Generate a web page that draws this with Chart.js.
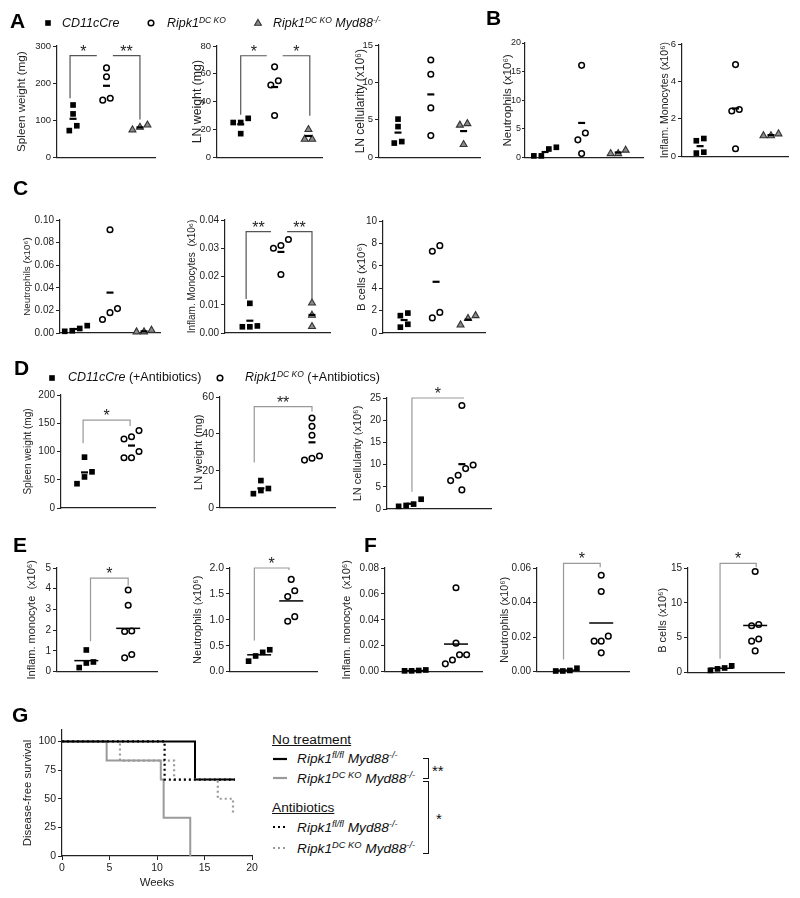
<!DOCTYPE html>
<html>
<head>
<meta charset="utf-8">
<script src="https://cdn.jsdelivr.net/npm/chart.js@4.4.1/dist/chart.umd.min.js"></script>
<style>
  body { margin: 0; width: 800px; height: 898px; background: #fff; position: relative; overflow: hidden;
         font-family: 'Liberation Sans', Arial, sans-serif; }
  canvas { position: absolute; }
  .t { position: absolute; white-space: nowrap; line-height: 1; color: #111; }
  .t sup { font-size: 0.68em; position: relative; top: -0.5em; vertical-align: baseline; line-height: 0; }
  .letter { font-weight: bold; color: #000; }
  .it { font-style: italic; }
  .ul { text-decoration: underline; }
  svg { position: absolute; overflow: visible; }
  .brk { position: absolute; border: 1.5px solid #111; border-left: none; }
</style>
</head>
<body>
<script>
Chart.defaults.font.family = "'Liberation Sans', Arial, sans-serif";
Chart.defaults.color = '#222';

// ---- data (x10^6 where noted) ----
// A-C groups: CD11cCre, Ripk1 DC KO, Ripk1 DC KO Myd88-/-
const spleenWeightA = [[72, 117, 141, 85], [241, 217, 159, 154], [87, 74, 81]];
const lnWeightA     = [[25, 25, 28, 17], [65, 55, 52, 30], [20, 13, 13]];
const lnCellsA      = [[5.1, 4.1, 1.9, 2.1], [13.0, 11.1, 6.6, 2.9], [4.5, 4.3, 1.7]];
const neutrophilsB  = [[1.5, 1.8, 0.3, 0.3], [16.1, 4.3, 3.1, 0.7], [1.3, 0.7, 0.7]];
const monocytesB    = [[0.95, 0.83, 0.17, 0.22], [4.9, 2.5, 2.42, 0.4], [1.2, 1.1, 1.1]];
const neutrophilsC  = [[0.004, 0.0065, 0.0015, 0.002], [0.0914, 0.012, 0.0216, 0.018], [0.0025, 0.001, 0.001]];
const monocytesC    = [[0.0105, 0.0025, 0.0022, 0.0022], [0.031, 0.030, 0.0331, 0.0207], [0.0106, 0.0063, 0.0023]];
const bCellsC       = [[1.78, 1.55, 0.78, 0.52], [7.8, 7.3, 1.35, 1.84], [1.55, 1.3, 0.72]];
// D-F groups: CD11cCre (+Antibiotics), Ripk1 DC KO (+Antibiotics)
const spleenWeightD = [[90, 64, 55, 43], [137, 126, 122, 100, 89, 89]];
const lnWeightD     = [[14.7, 10.4, 9.3, 7.6], [48.6, 44.1, 39.3, 28, 25.8, 26.8]];
const lnCellsD      = [[1.1, 0.6, 0.8, 2.2], [23.3, 9.1, 9.9, 7.6, 6.4, 4.3]];
const monocytesE    = [[1.04, 0.46, 0.41, 0.19], [3.94, 3.2, 1.96, 1.93, 0.66, 0.82]];
const neutrophilsE  = [[0.42, 0.37, 0.3, 0.2], [1.78, 1.56, 1.45, 1.06, 0.97]];
const monocytesF    = [[0.0008, 0.0005, 0.0005, 0.0012], [0.0647, 0.0219, 0.0129, 0.0129, 0.0089, 0.0059]];
const neutrophilsF  = [[0.0006, 0.0003, 0.0003, 0.0019], [0.0558, 0.0464, 0.0176, 0.0176, 0.0205, 0.0108]];
const bCellsF       = [[0.65, 0.3, 0.52, 0.96], [14.5, 6.7, 6.9, 4.8, 4.5, 3.1]];

// tick labels
const ticksSpleenA  = [0, 100, 200, 300];
const ticksLnWA     = [0, 20, 40, 60, 80];
const ticksLnCA     = [0, 5, 10, 15];
const ticksNeuB     = [0, 5, 10, 15, 20];
const ticksMonoB    = [0, 2, 4, 6];
const ticksNeuC     = [0, 0.02, 0.04, 0.06, 0.08, 0.10];
const ticksMonoC    = [0, 0.01, 0.02, 0.03, 0.04];
const ticksBC       = [0, 2, 4, 6, 8, 10];
const ticksSpleenD  = [0, 50, 100, 150, 200];
const ticksLnWD     = [0, 20, 40, 60];
const ticksLnCD     = [0, 5, 10, 15, 20, 25];
const ticksMonoE    = [0, 1, 2, 3, 4, 5];
const ticksNeuE     = [0, 0.5, 1.0, 1.5, 2.0];
const ticksMonoF    = [0, 0.02, 0.04, 0.06, 0.08];
const ticksNeuF     = [0, 0.02, 0.04, 0.06];
const ticksBF       = [0, 5, 10, 15];

// G: disease-free survival (Kaplan-Meier steps)
const weeksFlNoTx = [0, 14, 18.2];
const survFlNoTx  = [100, 66.7, 66.7];
const weeksKoNoTx = [0, 4.7, 10.4, 10.7, 13.5];
const survKoNoTx  = [100, 83.3, 66.7, 33.3, 0];
const weeksFlAbx  = [0, 10.8, 18.2];
const survFlAbx   = [100, 66.7, 66.7];
const weeksKoAbx  = [0, 6.1, 11.8, 16.4, 18.0, 18.1];
const survKoAbx   = [100, 83.3, 66.7, 50, 37.5, 37.5];
const ticksWeeks  = [0, 5, 10, 15, 20];
const ticksSurv   = [0, 25, 50, 75, 100];

// ---- helpers ----
function addCanvas(left, top, w, h) {
  const c = document.createElement('canvas');
  c.width = w; c.height = h;
  c.style.left = left + 'px'; c.style.top = top + 'px';
  c.style.width = w + 'px'; c.style.height = h + 'px';
  document.body.appendChild(c);
  return c;
}

// spread points that sit at nearly the same height side by side
function swarm(vals, pxPerUnitY, pxPerCat, gap) {
  const idx = vals.map((v, i) => i).sort((a, b) => vals[a] - vals[b]);
  const off = vals.map(() => 0);
  let cluster = [idx[0]];
  const flush = () => {
    const k = cluster.length;
    cluster.forEach((j, n) => { off[j] = (n - (k - 1) / 2) * gap / pxPerCat; });
  };
  for (let n = 1; n < idx.length; n++) {
    if ((vals[idx[n]] - vals[idx[n - 1]]) * pxPerUnitY < gap) cluster.push(idx[n]);
    else { flush(); cluster = [idx[n]]; }
  }
  flush();
  return off;
}

// significance brackets, given in data units
const bracketPlugin = {
  id: 'brackets',
  afterDatasetsDraw(chart, args, opts) {
    const items = opts.items || [];
    const { ctx, scales: { x, y } } = chart;
    ctx.save();
    ctx.strokeStyle = opts.color; ctx.lineWidth = 1.2;
    ctx.fillStyle = '#222';
    ctx.font = "16px 'Liberation Sans', Arial, sans-serif";
    ctx.textAlign = 'center'; ctx.textBaseline = 'alphabetic';
    items.forEach(([a, b, top, lb, rb, label]) => {
      const xa = x.getPixelForValue(a), xb = x.getPixelForValue(b), yt = y.getPixelForValue(top);
      ctx.beginPath();
      if (lb !== null) { ctx.moveTo(xa, y.getPixelForValue(lb)); ctx.lineTo(xa, yt); }
      else ctx.moveTo(xa, yt);
      ctx.lineTo(xb, yt);
      if (rb !== null) ctx.lineTo(xb, y.getPixelForValue(rb));
      ctx.stroke();
      ctx.fillText(label, (xa + xb) / 2, yt + 1);
    });
    ctx.restore();
  }
};

const markerStyles = [
  { pointStyle: 'rect', pointRadius: 4, pointBackgroundColor: '#000', pointBorderColor: '#000', pointBorderWidth: 0 },
  { pointStyle: 'circle', pointRadius: 2.8, pointBackgroundColor: '#fff', pointBorderColor: '#000', pointBorderWidth: 1.5 },
  { pointStyle: 'triangle', pointRadius: 4, pointBackgroundColor: '#8a8a8a', pointBorderColor: '#333', pointBorderWidth: 1.1 }
];

function dotPanel(p) {
  const [x0, yTop, yBot, xEnd] = p.box;
  const titleSize = p.ts;
  const yAxisW = Math.round(p.titleDx + 0.6 * titleSize);
  const padTop = 26, padRight = 8, xAxisH = 4;
  const canvas = addCanvas(x0 - yAxisW, yTop - padTop, yAxisW + (xEnd - x0) + padRight, padTop + (yBot - yTop) + xAxisH);
  const yMax = p.ticks[p.ticks.length - 1];
  const pxPerUnitY = (yBot - yTop) / yMax;
  const pxPerCat = (xEnd - x0) / (p.xr[1] - p.xr[0]);
  const means = p.data.map(g => g.reduce((a, b) => a + b, 0) / g.length);
  const datasets = [{
    data: means.map((m, i) => ({ x: i + 1, y: m })),
    pointStyle: 'line', pointRadius: p.wide ? 12 : 3.5, pointBorderWidth: p.wide ? 1.5 : 2.2,
    pointBorderColor: '#000', clip: false
  }];
  p.data.forEach((vals, gi) => {
    const off = swarm(vals, pxPerUnitY, pxPerCat, 7.5);
    datasets.push(Object.assign({ data: vals.map((v, i) => ({ x: gi + 1 + off[i], y: v })), clip: false }, markerStyles[gi]));
  });
  new Chart(canvas, {
    type: 'scatter',
    data: { datasets },
    plugins: [bracketPlugin],
    options: {
      responsive: false, animation: false, devicePixelRatio: 1, events: [],
      layout: { padding: { top: padTop, right: padRight, left: 0, bottom: 0 } },
      plugins: {
        legend: { display: false }, tooltip: { enabled: false },
        brackets: { items: p.brackets || [], color: p.bracketColor || '#555' }
      },
      scales: {
        x: {
          type: 'linear', min: p.xr[0], max: p.xr[1],
          ticks: { display: false }, grid: { display: false },
          border: { display: true, color: '#222', width: 1.2 },
          afterFit: s => { s.height = xAxisH; }
        },
        y: {
          type: 'linear', min: 0, max: yMax,
          afterBuildTicks: s => { s.ticks = p.ticks.map(v => ({ value: v })); },
          ticks: { font: { size: p.tk || 10 }, color: '#222', padding: p.tp === undefined ? 2 : p.tp,
                   callback: v => Number(v).toFixed(p.dec || 0) },
          grid: { display: true, drawOnChartArea: false, drawTicks: true, tickLength: p.tl || 4, color: '#222', lineWidth: 1 },
          border: { display: true, color: '#222', width: 1.2 },
          title: { display: true, text: p.title, font: { size: titleSize }, color: '#222', padding: 0 },
          afterFit: s => { s.width = yAxisW; }
        }
      }
    }
  });
}

const X6 = ' (x10\u2076)';
const dark = '#555', light = '#999';
const panels = [
  { data: spleenWeightA, ticks: ticksSpleenA, title: 'Spleen weight (mg)', box: [57, 46, 161, 155], titleDx: 35, ts: 11.7, tk: 9.5, xr: [0.52, 3.45],
    bracketColor: dark, brackets: [[0.91, 1.71, 274, 159, null, '*'], [2.19, 3.0, 274, null, 102, '**']] },
  { data: lnWeightA, ticks: ticksLnWA, title: 'LN weight (mg)', box: [217, 46, 161, 322], titleDx: 20, ts: 12.3, tk: 9.5, xr: [0.3, 3.4],
    bracketColor: dark, brackets: [[1.0, 1.77, 73, 30.6, null, '*'], [2.24, 3.04, 73, null, 29.9, '*']] },
  { data: lnCellsA, ticks: ticksLnCA, title: 'LN cellularity' + X6, box: [379, 45, 161, 480], titleDx: 19, ts: 12, tk: 9.5, xr: [0.42, 3.5] },
  { data: neutrophilsB, ticks: ticksNeuB, title: 'Neutrophils' + X6, box: [525, 43, 160, 643], titleDx: 17, ts: 11.5, tk: 9, tl: 3, tp: 1, xr: [0.45, 3.68] },
  { data: monocytesB, ticks: ticksMonoB, title: 'Inflam. Monocytes' + X6, box: [682, 44, 160, 788], titleDx: 17, ts: 10.5, tk: 9.5, xr: [0.49, 3.48] },
  { data: neutrophilsC, ticks: ticksNeuC, title: 'Neutrophils' + X6, box: [60, 220, 337, 160], titleDx: 33, ts: 9.8, xr: [0.53, 3.47], dec: 2 },
  { data: monocytesC, ticks: ticksMonoC, title: 'Inflam. Monocytes ' + X6, box: [225, 220, 337, 330], titleDx: 33, ts: 10, xr: [0.2, 3.58], dec: 2,
    bracketColor: dark, brackets: [[0.88, 1.68, 0.0359, 0.012, null, '**'], [2.2, 3.0, 0.0359, null, 0.012, '**']] },
  { data: bCellsC, ticks: ticksBC, title: 'B cells' + X6, box: [383, 221, 337, 485], titleDx: 21, ts: 11.5, xr: [0.34, 3.53] },
  { data: spleenWeightD, ticks: ticksSpleenD, title: 'Spleen weight (mg)', box: [61, 395, 512, 155], titleDx: 33, ts: 10, xr: [0.5, 2.5],
    bracketColor: light, brackets: [[0.97, 1.97, 155.6, 114.5, 145, '*']] },
  { data: lnWeightD, ticks: ticksLnWD, title: 'LN weight (mg)', box: [220, 397, 512, 335], titleDx: 21, ts: 11.2, tk: 10.5, xr: [0.2, 2.45],
    bracketColor: light, brackets: [[0.87, 2.0, 54.8, 24.5, 52.2, '**']] },
  { data: lnCellsD, ticks: ticksLnCD, title: 'LN cellularity' + X6, box: [387, 398, 513, 491], titleDx: 29, ts: 11, xr: [0.56, 2.56],
    bracketColor: light, brackets: [[1.04, 2.04, 25, 3.9, null, '*']] },
  { data: monocytesE, ticks: ticksMonoE, title: 'Inflam. monocyte ' + X6, box: [57, 568, 681, 163], titleDx: 25, ts: 11, xr: [0.3, 2.7], wide: true,
    bracketColor: light, brackets: [[1.1, 2.0, 4.51, 1.46, 4.16, '*']] },
  { data: neutrophilsE, ticks: ticksNeuE, title: 'Neutrophils' + X6, box: [230, 568, 681, 323], titleDx: 32, ts: 11, tk: 10.5, xr: [0.09, 2.82], dec: 1, wide: true,
    bracketColor: light, brackets: [[0.85, 1.93, 2.0, 0.6, 1.96, '*']] },
  { data: monocytesF, ticks: ticksMonoF, title: 'Inflam. monocyte ' + X6, box: [385, 568, 681, 488], titleDx: 38, ts: 11, xr: [0.26, 2.65], dec: 2, wide: true },
  { data: neutrophilsF, ticks: ticksNeuF, title: 'Neutrophils' + X6, box: [537, 568, 681, 635], titleDx: 32, ts: 10.7, xr: [0.16, 2.81], dec: 2, wide: true,
    bracketColor: light, brackets: [[0.92, 1.97, 0.0627, 0.0069, 0.0605, '*']] },
  { data: bCellsF, ticks: ticksBF, title: 'B cells' + X6, box: [688, 568, 682, 790], titleDx: 25, ts: 11, xr: [0.03, 2.86], wide: true,
    bracketColor: light, brackets: [[0.97, 2.03, 15.66, 1.97, 15.1, '*']] }
];
panels.forEach(dotPanel);

// ---- G: survival ----
(function () {
  const x0 = 62, yTop = 730, yBot = 856, xEnd = 252;
  const titleSize = 11.4;
  const yAxisW = Math.round(34 + 0.6 * titleSize);
  const padTop = 12, padRight = 10, canvasBottom = 898;
  const xAxisH = canvasBottom - yBot;
  const canvas = addCanvas(x0 - yAxisW, yTop - padTop, yAxisW + (xEnd - x0) + padRight, canvasBottom - (yTop - padTop));
  const pts = (xs, ys) => xs.map((x, i) => ({ x, y: ys[i] }));
  const line = (xs, ys, color, dash, width) => ({
    data: pts(xs, ys), showLine: true, stepped: true, borderColor: color, borderWidth: width,
    borderDash: dash, borderCapStyle: 'butt', pointRadius: 0, fill: false
  });
  new Chart(canvas, {
    type: 'scatter',
    data: {
      datasets: [
        line(weeksFlAbx, survFlAbx, '#000', [2, 3], 2.2),
        line(weeksKoAbx, survKoAbx, '#9a9a9a', [2, 3], 2.2),
        line(weeksFlNoTx, survFlNoTx, '#000', [], 2),
        line(weeksKoNoTx, survKoNoTx, '#9a9a9a', [], 2)
      ]
    },
    options: {
      responsive: false, animation: false, devicePixelRatio: 1, events: [],
      layout: { padding: { top: padTop, right: padRight, left: 0, bottom: 0 } },
      plugins: { legend: { display: false }, tooltip: { enabled: false } },
      scales: {
        x: {
          type: 'linear', min: 0, max: 20,
          afterBuildTicks: s => { s.ticks = ticksWeeks.map(v => ({ value: v })); },
          ticks: { font: { size: 10.5 }, color: '#222', padding: 2, maxRotation: 0 },
          grid: { display: true, drawOnChartArea: false, drawTicks: true, tickLength: 4, color: '#222' },
          border: { display: true, color: '#222', width: 1.2 },
          title: { display: true, text: 'Weeks', font: { size: titleSize }, color: '#222', padding: { top: 0, bottom: 8 } },
          afterFit: s => { s.height = xAxisH; }
        },
        y: {
          type: 'linear', min: 0, max: 110,
          afterBuildTicks: s => { s.ticks = ticksSurv.map(v => ({ value: v })); },
          ticks: { font: { size: 10.5 }, color: '#222', padding: 2 },
          grid: { display: true, drawOnChartArea: false, drawTicks: true, tickLength: 4, color: '#222' },
          border: { display: true, color: '#222', width: 1.2 },
          title: { display: true, text: 'Disease-free survival', font: { size: titleSize }, color: '#222', padding: 0 },
          afterFit: s => { s.width = yAxisW; }
        }
      }
    }
  });
})();

// ---- text, legends ----
function text(html, x, baseline, size, cls) {
  const d = document.createElement('div');
  d.className = 't ' + (cls || '');
  d.style.left = x + 'px';
  d.style.top = (baseline - 0.8465 * size) + 'px';
  d.style.fontSize = size + 'px';
  d.innerHTML = html;
  document.body.appendChild(d);
}
function mark(kind, cx, cy) {
  const s = document.createElementNS('http://www.w3.org/2000/svg', 'svg');
  s.setAttribute('width', 20); s.setAttribute('height', 20);
  s.style.left = (cx - 10) + 'px'; s.style.top = (cy - 10) + 'px';
  let inner = '';
  if (kind === 'square') inner = '<rect x="7.2" y="7.2" width="5.6" height="5.6" fill="#000"/>';
  if (kind === 'circle') inner = '<circle cx="10" cy="10" r="2.8" fill="#fff" stroke="#000" stroke-width="1.5"/>';
  if (kind === 'triangle') inner = '<polygon points="10,6.4 13.4,12.3 6.6,12.3" fill="#8a8a8a" stroke="#333" stroke-width="1.1"/>';
  s.innerHTML = inner;
  document.body.appendChild(s);
}
function sample(x1, x2, y, color, dashed) {
  const s = document.createElementNS('http://www.w3.org/2000/svg', 'svg');
  s.setAttribute('width', x2 - x1); s.setAttribute('height', 6);
  s.style.left = x1 + 'px'; s.style.top = (y - 3) + 'px';
  s.innerHTML = '<line x1="0" y1="3" x2="' + (x2 - x1) + '" y2="3" stroke="' + color + '" stroke-width="2.2"' +
    (dashed ? ' stroke-dasharray="2,3"' : '') + '/>';
  document.body.appendChild(s);
}

const L = 21;
text('A', 10, 28, L, 'letter');
text('B', 486, 25, L, 'letter');
text('C', 13, 195, L, 'letter');
text('D', 14, 375, L, 'letter');
text('E', 13, 552, L, 'letter');
text('F', 364, 552, L, 'letter');
text('G', 12, 722, L, 'letter');

mark('square', 47.8, 23.3);
text('CD11cCre', 62, 27.5, 12.5, 'it');
mark('circle', 150.8, 22.8);
text('Ripk1<sup>DC KO</sup>', 167, 27.5, 12.5, 'it');
mark('triangle', 257.8, 23);
text('Ripk1<sup>DC KO</sup> Myd88<sup>-/-</sup>', 273, 27.5, 12.5, 'it');

mark('square', 51.7, 378);
text('<i>CD11cCre</i> (+Antibiotics)', 68, 381.5, 12.5);
mark('circle', 220, 378);
text('<i>Ripk1<sup>DC KO</sup></i> (+Antibiotics)', 245, 381.5, 12.5);

const GL = 13.7;
text('No treatment', 272, 745, GL, 'ul');
sample(273, 287, 759, '#000', false);
text('Ripk1<sup>fl/fl</sup> Myd88<sup>-/-</sup>', 297, 763.5, GL, 'it');
sample(273, 287, 778, '#9a9a9a', false);
text('Ripk1<sup>DC KO</sup> Myd88<sup>-/-</sup>', 297, 783.5, GL, 'it');
text('Antibiotics', 272, 813, GL, 'ul');
sample(273, 287, 827, '#000', true);
text('Ripk1<sup>fl/fl</sup> Myd88<sup>-/-</sup>', 297, 832.5, GL, 'it');
sample(273, 287, 848, '#9a9a9a', true);
text('Ripk1<sup>DC KO</sup> Myd88<sup>-/-</sup>', 297, 853.5, GL, 'it');

function bracket(top, h) {
  const d = document.createElement('div');
  d.className = 'brk';
  d.style.left = '423px'; d.style.top = top + 'px';
  d.style.width = '5px'; d.style.height = h + 'px';
  document.body.appendChild(d);
}
bracket(758, 19);
bracket(781, 71);
text('**', 432, 776, 15);
text('*', 436, 824, 15);
</script>
</body>
</html>
